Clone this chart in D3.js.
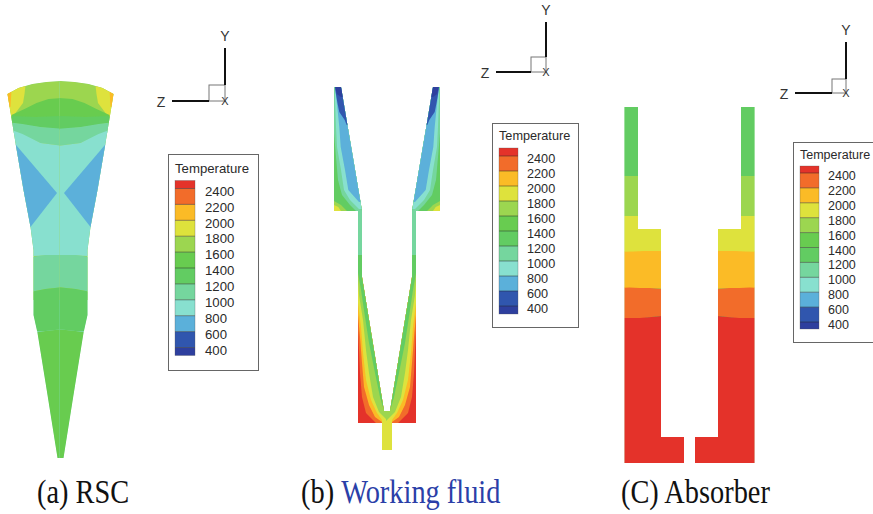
<!DOCTYPE html>
<html><head><meta charset="utf-8">
<script src="https://cdn.jsdelivr.net/npm/d3@7/dist/d3.min.js"></script>
<style>html,body{margin:0;padding:0;background:#fff}svg{display:block}</style>
</head><body><div id="c"></div>
<script>
// Temperature levels and band colours (coldest → hottest, 12 bands)
const levels = [400,600,800,1000,1200,1400,1600,1800,2000,2200,2400];
const tickLabels = ["2400","2200","2000","1800","1600","1400","1200","1000","800","600","400"];
const bandColors = ["#2E3F9E","#3056AE","#5BB0DA","#88E0CF","#75D69E","#62CC62","#68CC50","#9CD650","#DEE23C","#FBBB26","#F26C2A","#E4332A"];

// Halves are read as [distance from symmetry axis, height]
// (a) RSC
const rscOutline = [[0,81],[14,82],[28,84],[42,88],[53,94],[45,143],[37,190],[30,227],[27,250],[27,315],[23,333],[13,395],[3,458],[0,458]];
const rscBands = [
 {band:7,pts:[[0,70],[60,70],[60,300],[0,300]]},
 {band:8,pts:[[35,85],[36,94],[37.5,103],[48,117],[60,117],[60,70],[35,70]]},
 {band:9,pts:[[49,90],[50,107],[60,107],[60,90]]},
 {band:6,pts:[[0,98],[12,99],[24,103],[36,109],[49,115],[49,123],[0,129]]},
 {band:5,pts:[[0,116],[25,117],[49,116],[49,122],[30,126],[0,130]]},
 {band:4,pts:[[0,129],[20,127],[38,124],[60,121],[60,130],[38,135],[20,143],[0,146]]},
 {band:3,pts:[[0,146],[20,143],[38,134],[60,126],[60,257],[0,255]]},
 {band:2,pts:[[3.5,193],[47,142],[60,130],[60,245],[30,227]]},
 {band:4,pts:[[0,255],[15,255],[30,257],[30,292],[15,289],[0,287]]},
 {band:5,pts:[[0,287],[15,289],[30,292],[30,332],[15,331],[0,329]]},
 {band:6,pts:[[0,329],[15,331],[30,333],[30,470],[0,470]]}
];
// (b) Working fluid
const fluidOutline = [[46,87],[53,87],[53,211],[29,211],[29,423],[5,423],[5,450],[0,450],[0,411],[3,411],[25,277],[25,211],[26,205]];
const fluidBands = [
 {band:4,pts:[[0,85],[60,85],[60,255],[0,255]]},
 {band:11,pts:[[0,255],[35,255],[35,430],[0,430]]},
 {band:10,pts:[[0,255],[30,255],[29,330],[28,350],[27,373],[25,397],[21,413],[11,423],[0,425]]},
 {band:9,pts:[[0,255],[30,255],[29,315],[27,337],[25,363],[23,387],[18,405],[12,417],[5,422],[0,424]]},
 {band:8,pts:[[0,255],[30,255],[29,303],[26,327],[24,353],[21,380],[16,400],[10,413],[5,420],[5,455],[0,455]]},
 {band:7,pts:[[0,255],[30,255],[29,280],[28,295],[24,320],[21,350],[18,373],[14,397],[8,412],[0,423]]},
 {band:5,pts:[[0,255],[30,255],[29,273],[26,290],[22,317],[18,343],[12,373],[7,397],[3,411],[0,411]]},
 {band:8,pts:[[60,195],[60,212],[25,212],[25,195]]},
 {band:7,pts:[[53,205],[48.7,207],[45.3,212],[0,212],[0,85],[53,85]]},
 {band:5,pts:[[53,201],[46,205],[39,212],[0,212],[0,85],[53,85]]},
 {band:4,pts:[[53,133],[51,157],[49,180],[45,195],[37,205],[30,212],[0,212],[0,85],[53,85]]},
 {band:3,pts:[[52,100],[51,127],[50,147],[46,170],[43,190],[37,200],[28,209],[0,209],[0,85],[52,85]]},
 {band:2,pts:[[51.3,93],[49.7,107],[47.7,127],[46.3,147],[42,170],[38.7,190],[28,202],[0,202],[0,85],[51.3,85]]},
 {band:1,pts:[[51.7,90],[49.7,102],[47.7,112],[42.3,120],[40.3,125],[0,125],[0,85],[51.7,85]]},
 {band:0,pts:[[52,87],[50,94],[46,97],[0,97],[0,85],[52,85]]}
];
// (C) Absorber
const absorberOutline = [[51.5,107],[65,107],[65,463],[5.5,463],[5.5,437],[28.5,437],[28.5,229],[51.5,229]];
const absorberBands = [
 {band:5,pts:[[0,100],[70,100],[70,176],[0,176]]},
 {band:7,pts:[[0,176],[70,176],[70,216],[0,216]]},
 {band:8,pts:[[0,216],[70,216],[70,252],[0,252]]},
 {band:9,pts:[[0,252],[28,251],[45,251],[56,251.5],[70,252],[70,288],[50,288],[40,288.5],[0,289]]},
 {band:10,pts:[[0,289],[28,289],[40,288],[50,288],[60,287.5],[70,288],[70,318],[45,318],[38,317],[28,316],[0,316]]},
 {band:11,pts:[[0,316],[28,316],[38,317],[50,318],[70,318],[70,470],[0,470]]}
];

const panels = [
 {id:"a",axis:60.5,outline:rscOutline,bands:rscBands,base:3},
 {id:"b",axis:387,outline:fluidOutline,bands:fluidBands,base:4},
 {id:"c",axis:689.5,outline:absorberOutline,bands:absorberBands,base:5}
];
// Legends
const legends = [
 {x:168,w:90,top:154,bottom:370,titleY:173,sx:175,sw:20,y2400:188.5,y400:347.5,pad:8,labelX:205,fs:13.2},
 {x:492,w:86,top:123,bottom:327,titleY:140,sx:499,sw:19,y2400:156,y400:306,pad:8,labelX:527,fs:12.7},
 {x:793,w:100,top:142,bottom:342,titleY:159,sx:800,sw:19,y2400:173,y400:322,pad:7,labelX:828,fs:12.5}
];
// Coordinate triads
const triads = [
 {ox:225,oy:101,arm:16,len:53,fs:14},
 {ox:546,oy:72,arm:15,len:50,fs:14},
 {ox:846,oy:93,arm:14,len:51,fs:14}
];
const captions = [
 {x:37,parts:[["(a) RSC","#111"]]},
 {x:301,parts:[["(b) ","#111"],["Working fluid","#2B3FA8"]]},
 {x:621,parts:[["(C) Absorber","#111"]]}
];

const W=873,H=514;
const svg=d3.select("#c").append("svg").attr("width",W).attr("height",H).attr("viewBox",[0,0,W,H]);
const defs=svg.append("defs");
defs.append("filter").attr("id","soft").attr("x","-5%").attr("y","-5%").attr("width","110%").attr("height","110%")
  .append("feGaussianBlur").attr("stdDeviation",0.45);
const yScale=d3.scaleLinear().domain([0,H]).range([0,H]);

panels.forEach(p=>{
  const root=svg.append("g").attr("filter","url(#soft)");
  [-1,1].forEach(side=>{
    const xs=d3.scaleLinear().domain([0,100]).range([p.axis,p.axis+side*100]);
    // the half-shapes overlap across the axis, and the fills run past their clip, so no seam shows
    const mk=over=>d3.line().x(d=>xs(d[0]===0?over:d[0])).y(d=>yScale(d[1])).curve(d3.curveLinearClosed);
    const clipLine=mk(-1), fillLine=mk(-3);
    const cid="clip-"+p.id+(side<0?"L":"R");
    defs.append("clipPath").attr("id",cid).append("path").attr("d",clipLine(p.outline));
    const g=root.append("g").attr("clip-path","url(#"+cid+")");
    g.append("path").attr("d",fillLine(p.outline)).attr("fill",bandColors[p.base]);
    g.selectAll("path.band").data(p.bands).join("path").attr("class","band")
      .attr("d",d=>fillLine(d.pts)).attr("fill",d=>bandColors[d.band]);
  });
});

legends.forEach(l=>{
  const g=svg.append("g");
  g.append("rect").attr("x",l.x+.5).attr("y",l.top+.5).attr("width",l.w).attr("height",l.bottom-l.top)
    .attr("fill","#fff").attr("stroke","#666").attr("stroke-width",1);
  g.append("text").attr("x",l.sx).attr("y",l.titleY).text("Temperature")
    .attr("font-family","Liberation Sans").attr("font-size",l.fs).attr("fill","#2a2a2a");
  const ty=d3.scaleLinear().domain([400,2400]).range([l.y400,l.y2400]);
  bandColors.forEach((c,i)=>{
    const hiT=400+200*i, top=i===11?ty(2400)-l.pad:ty(hiT), bot=i===0?ty(400)+l.pad:ty(hiT-200);
    g.append("rect").attr("x",l.sx).attr("y",top).attr("width",l.sw).attr("height",bot-top).attr("fill",c);
  });
  g.selectAll("line.sep").data(levels).join("line").attr("class","sep")
    .attr("x1",l.sx).attr("x2",l.sx+l.sw).attr("y1",d=>ty(d)).attr("y2",d=>ty(d))
    .attr("stroke","#222").attr("stroke-opacity",.6).attr("stroke-width",.8);
  g.append("rect").attr("x",l.sx).attr("y",ty(2400)-l.pad).attr("width",l.sw).attr("height",ty(400)-ty(2400)+2*l.pad)
    .attr("fill","none").attr("stroke","#555").attr("stroke-opacity",.5).attr("stroke-width",.6);
  g.selectAll("text.tick").data(tickLabels).join("text").attr("class","tick")
    .attr("x",l.labelX).attr("y",d=>ty(+d)+2.5+l.fs*0.36).text(d=>d)
    .attr("font-family","Liberation Sans").attr("font-size",l.fs).attr("fill","#2a2a2a");
});

triads.forEach(t=>{
  const g=svg.append("g");
  g.append("rect").attr("x",t.ox-t.arm).attr("y",t.oy-t.arm).attr("width",t.arm).attr("height",t.arm)
    .attr("fill","none").attr("stroke","#777").attr("stroke-width",1);
  g.append("line").attr("x1",t.ox).attr("x2",t.ox).attr("y1",t.oy-t.arm).attr("y2",t.oy-t.len)
    .attr("stroke","#111").attr("stroke-width",2);
  g.append("line").attr("x1",t.ox-t.arm).attr("x2",t.ox-t.len).attr("y1",t.oy).attr("y2",t.oy)
    .attr("stroke","#111").attr("stroke-width",2);
  const lab=(s,x,y,fs)=>g.append("text").attr("x",x).attr("y",y).text(s).attr("text-anchor","middle")
    .attr("font-family","Liberation Sans").attr("font-size",fs).attr("fill","#333");
  lab("Y",t.ox,t.oy-t.len-7,t.fs);
  lab("Z",t.ox-t.len-11,t.oy+6,t.fs);
  lab("X",t.ox,t.oy+4,t.fs-3);
});

captions.forEach(c=>{
  const tx=svg.append("text").attr("transform","translate("+c.x+",503) scale(0.86,1)")
    .attr("font-family","Liberation Serif").attr("font-size",33);
  c.parts.forEach(p=>tx.append("tspan").attr("fill",p[1]).style("white-space","pre").text(p[0]));
});
</script></body></html>
